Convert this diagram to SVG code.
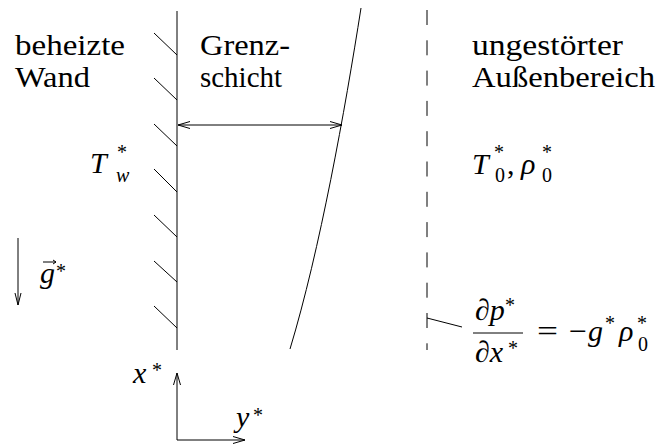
<svg xmlns="http://www.w3.org/2000/svg" width="656" height="444" viewBox="0 0 656 444">
<style>
.ln{stroke:#000;stroke-width:1;fill:none}
text{fill:#000}
.t{font-size:30px}
.m{font-style:italic;font-size:30px}
.s{font-size:20px}
</style>
<rect width="656" height="444" fill="#fff"/>
<g font-family="'Liberation Serif', 'DejaVu Serif', serif">
<g id="wall">
<line class="ln" x1="177" y1="11" x2="177" y2="350"/>
<path class="ln" d="M154 33L177 55M154 78L177 100M154 124L177 146M154 169L177 192M154 215L177 237M154 261L177 282M154 306L177 328"/>
<text class="t" x="15" y="55" textLength="110" lengthAdjust="spacingAndGlyphs">beheizte</text>
<text class="t" x="15" y="87" textLength="75" lengthAdjust="spacingAndGlyphs">Wand</text>
<text class="m" x="90" y="173">T</text>
<text class="s" x="117" y="159">*</text>
<text class="m" x="116" y="182" style="font-size:20px">w</text>
</g>
<g id="boundary-layer">
<path class="ln" d="M361 8C345 110 320 250 290 349"/>
<text class="t" x="200" y="55" textLength="90" lengthAdjust="spacingAndGlyphs">Grenz-</text>
<text class="t" x="200" y="87" textLength="82" lengthAdjust="spacingAndGlyphs">schicht</text>
</g>
<g id="outer-region">
<line class="ln" x1="427" y1="10" x2="427" y2="350" stroke-dasharray="15 15.3"/>
<text class="t" x="472" y="55" textLength="151" lengthAdjust="spacingAndGlyphs">ungestörter</text>
<text class="t" x="472" y="87" textLength="183" lengthAdjust="spacingAndGlyphs">Außenbereich</text>
<text class="m" x="472" y="174">T</text>
<text class="s" x="494" y="159">*</text>
<text class="s" x="495" y="182">0</text>
<text class="t" x="507" y="174">,</text>
<text class="m" x="521" y="174">ρ</text>
<text class="s" x="542" y="159">*</text>
<text class="s" x="542" y="182">0</text>
</g>
<g id="gravity">
<path class="ln" d="M18 238V305M15 293L18 305L21 293"/>
<text class="m" x="40" y="283">g</text>
<path class="ln" d="M43 262H56M53 260L56 262L53 264"/>
<text class="s" x="56" y="278">*</text>
</g>
<g id="axes">
<path class="ln" d="M177 440V373M173.5 385L177 373L180.5 385M177 440H245M233 436.5L245 440L233 443.5"/>
<text class="m" x="133" y="383">x</text>
<text class="s" x="152" y="377">*</text>
<text class="m" x="236" y="427">y</text>
<text class="s" x="253" y="422">*</text>
</g>
<g id="equation">
<text class="m" x="475" y="320">∂p</text>
<text class="s" x="505" y="312">*</text>
<line class="ln" x1="473" y1="333" x2="523" y2="333"/>
<text class="m" x="475" y="362">∂x</text>
<text class="s" x="508" y="355">*</text>
<text class="t" x="537" y="341" textLength="21" lengthAdjust="spacingAndGlyphs">=</text>
<text class="t" x="569" y="341" textLength="18" lengthAdjust="spacingAndGlyphs">−</text>
<text class="m" x="588" y="341">g</text>
<text class="s" x="605" y="330">*</text>
<text class="m" x="619" y="341">ρ</text>
<text class="s" x="637" y="330">*</text>
<text class="s" x="638" y="351">0</text>
</g>
<g id="connectors">
<path class="ln" d="M178 125H342M190 121.5L178 125L190 128.5M330 121.5L342 125L330 128.5"/>
<line class="ln" x1="427" y1="318" x2="462" y2="327"/>
</g>
</g>
</svg>
